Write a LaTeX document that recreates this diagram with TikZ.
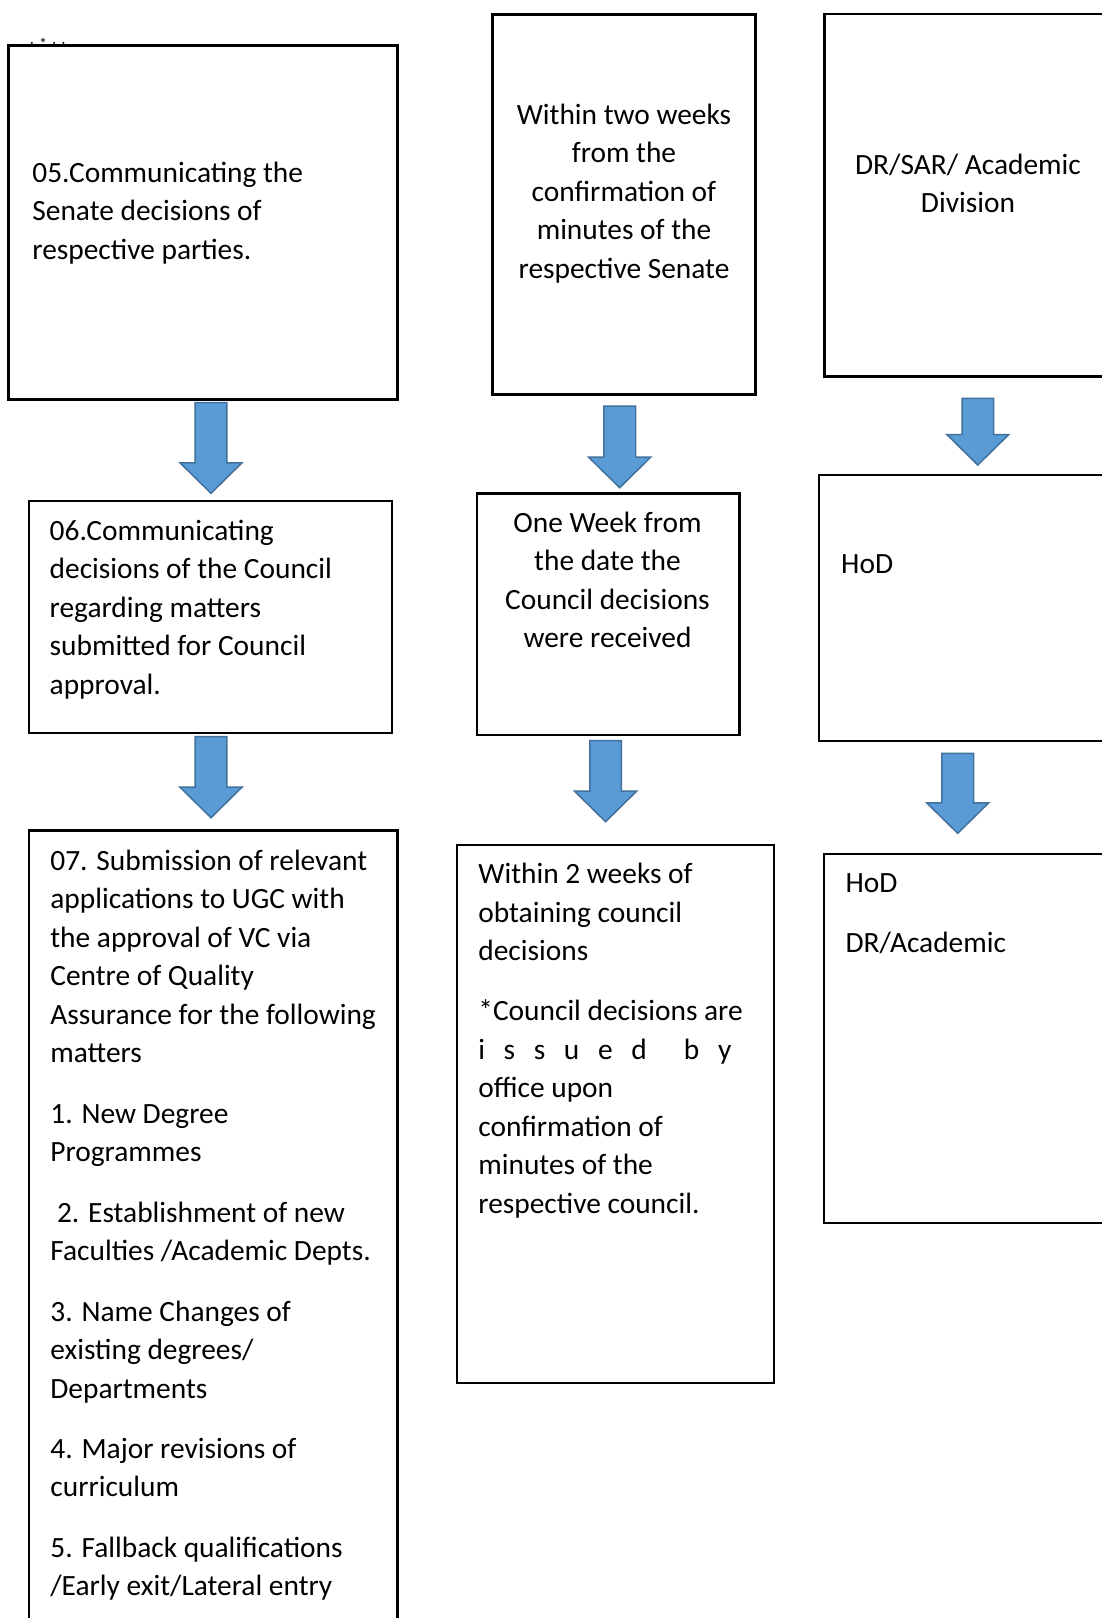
\documentclass[tikz,border=0pt]{standalone}
\usepackage{fontspec}
\setmainfont{Carlito}
\usetikzlibrary{calc,fit}

\definecolor{arrowfill}{HTML}{5B9BD5}
\definecolor{arrowedge}{HTML}{41719C}

% body text of the boxes
\newcommand\boxfont{\fontsize{14.7pt}{19.25pt}\selectfont}
% fixes the height of the first line, so its baseline sits 12pt below the node top
\newcommand\firstline{\rule{0pt}{12pt}}
% extra space between paragraphs inside a box
\newcommand\pargap{10.95pt}

% block arrow: #1 x position, #2 source box, #3 target box,
% #4 gap below the source, #5 gap above the target (both in px)
\newcommand\flowarrow[5]{%
  \path[blockarrow] let \p1=(#1,0 |- #2.south), \p2=(#1,0 |- #3.north) in
    (\x1-7.9pt,\y1-#4*0.5pt) -- (\x1+7.9pt,\y1-#4*0.5pt)
    -- (\x1+7.9pt,\y2+#5*0.5pt+15.25pt) -- (\x1+15.5pt,\y2+#5*0.5pt+15.25pt)
    -- (\x1,\y2+#5*0.5pt)
    -- (\x1-15.5pt,\y2+#5*0.5pt+15.25pt) -- (\x1-7.9pt,\y2+#5*0.5pt+15.25pt)
    -- cycle;}

\begin{document}
\begin{tikzpicture}[x=0.5pt,y=-0.5pt,
  frame/.style={draw=black, fill=white, rectangle, inner sep=0pt, outer sep=0pt},
  txt/.style={inner sep=0pt, font=\boxfont, align=left, anchor=north west},
  ctxt/.style={inner sep=0pt, font=\boxfont, align=center, anchor=north},
  blockarrow/.style={fill=arrowfill, draw=arrowedge, line width=0.75pt, line join=miter}]

\useasboundingbox (0,0) rectangle (1102,1618);
\fill[white] (0,0) rectangle (1102,1618);
\clip (0,0) rectangle (1102,1618);

% stray marks above the first box, mostly hidden by it
\node[inner sep=0pt, anchor=base west, font=\fontsize{8pt}{8pt}\selectfont] (marks) at (29.5,49)
  {:\hspace{2.5pt}*\hspace{2.5pt}:\hspace{2.5pt}:};

% ---- left column: steps ----
\node[frame, line width=1.5pt, fit={(8,45) (397,399)}] (b05) {};
\node[frame, line width=1pt, fit={(29,501) (391.7,733.3)}] (b06) {};
\node[frame, line width=1.35pt, fit={(29,830.5) (397.7,1650)}] (b07) {};

\node[txt] (t05) at (32,158) {\firstline 05.Communicating the\\Senate decisions of\\respective parties.};
\node[txt] (t06) at (49.3,516) {\firstline 06.Communicating\\decisions of the Council\\regarding matters\\submitted for Council\\approval.};
\node[txt] (t07) at (50,845.9) {\firstline 07. Submission of relevant\\applications to UGC with\\the approval of VC via\\Centre of Quality\\Assurance for the following\\matters\\[\pargap]
1. New Degree\\Programmes\\[\pargap]
\hspace*{3.3pt}2. Establishment of new\\Faculties /Academic Depts.\\[\pargap]
3. Name Changes of\\existing degrees/\\Departments\\[\pargap]
4. Major revisions of\\curriculum\\[\pargap]
5. Fallback qualifications\\/Early exit/Lateral entry};

% ---- middle column: time frames ----
\node[frame, line width=1.5pt, fit={(492.8,14) (755.7,394.3)}] (c2a) {};
\node[frame, line width=1.25pt, fit={(477.2,493.3) (739.7,735)}] (c2b) {};
\node[frame, line width=1pt, fit={(456.9,844.9) (773.5,1383.3)}] (c2c) {};

\node[ctxt] (t2a) at (624,100) {\firstline Within two weeks\\from the\\confirmation of\\minutes of the\\respective Senate};
\node[ctxt] (t2b) at (607.5,507.7) {\firstline One Week from\\the date the\\Council decisions\\were received};
\node[txt] (t2c) at (478,859.1) {\firstline Within 2 weeks of\\obtaining council\\decisions\\[\pargap]
*Council decisions are\\\makebox[126.5pt][l]{i\hfill s\hfill s\hfill u\hfill e\hfill d\hfill\hfill b\hfill y}\\office upon\\confirmation of\\minutes of the\\respective council.};

% ---- right column: responsibility ----
\node[frame, line width=1.25pt, fit={(824.5,14) (1112,376.7)}] (c3a) {};
\node[frame, line width=1.15pt, fit={(819.1,475) (1112,741)}] (c3b) {};
\node[frame, line width=1pt, fit={(824.1,853.7) (1112,1222.6)}] (c3c) {};

\node[ctxt] (t3a) at (968,150) {\firstline DR/SAR/ Academic\\Division};
\node[txt] (t3b) at (840.8,549.3) {\firstline HoD};
\node[txt] (t3c) at (845.2,868) {\firstline HoD\\[\pargap]DR/Academic};

% ---- block arrows between the boxes ----
\flowarrow{211}{b05}{b06}{3.7}{7.7}
\flowarrow{211}{b06}{b07}{3.4}{12.8}
\flowarrow{619.7}{c2a}{c2b}{11.7}{5.6}
\flowarrow{605.6}{c2b}{c2c}{5.7}{23.2}
\flowarrow{977.8}{c3a}{c3b}{21.6}{10}
\flowarrow{957.7}{c3b}{c3c}{12.3}{20.4}

\end{tikzpicture}
\end{document}
